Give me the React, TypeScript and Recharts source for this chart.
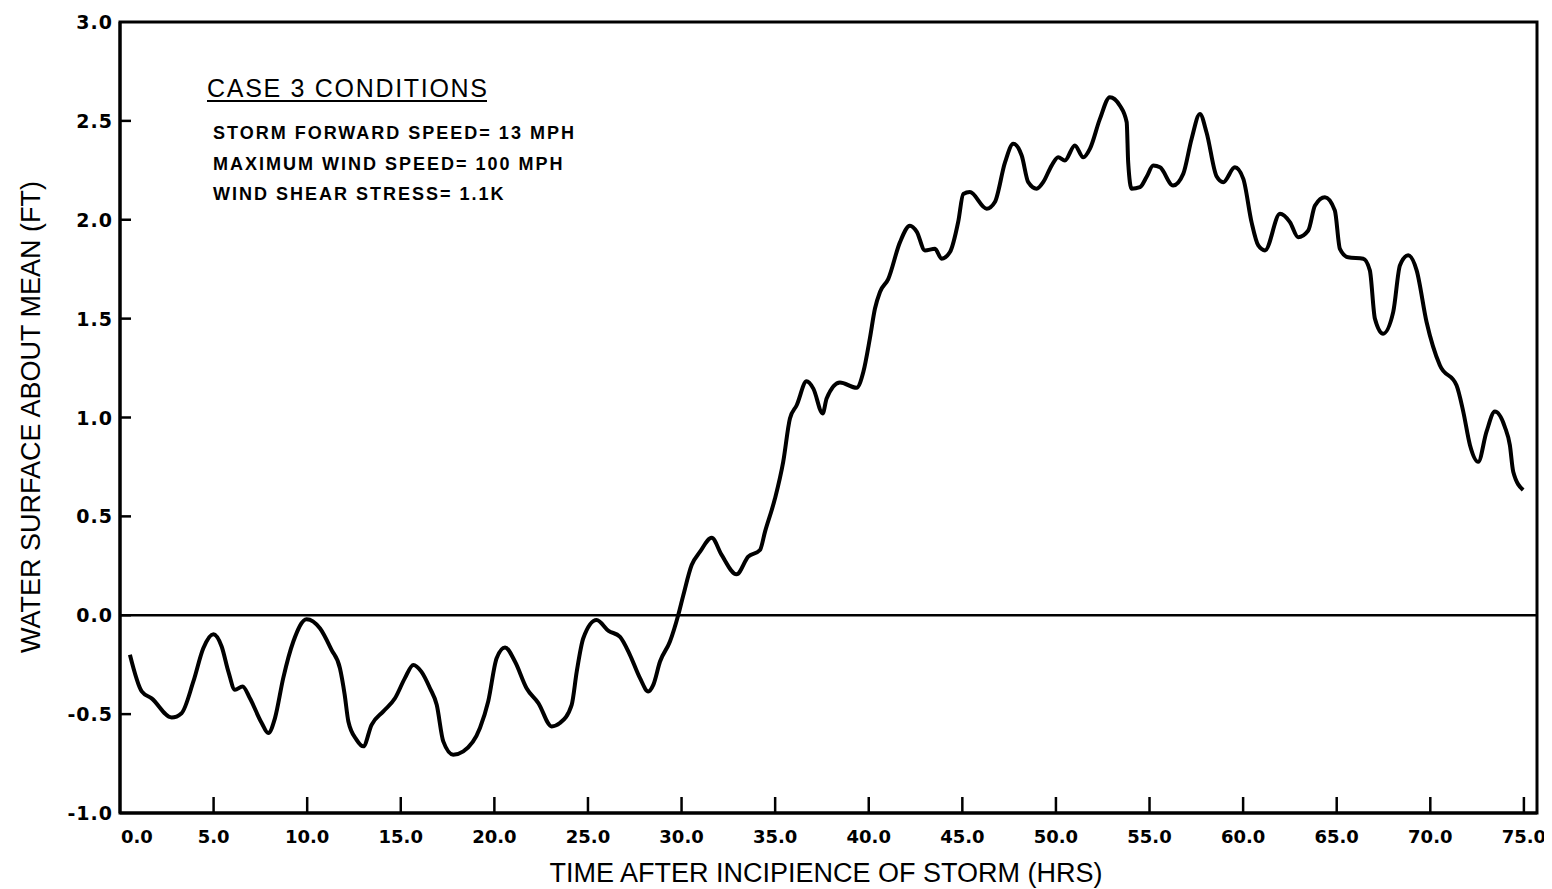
import React from "react";
import {
  LineChart,
  Line,
  XAxis,
  YAxis,
  ReferenceLine,
  ReferenceArea,
  Customized,
} from "recharts";

// Time after incipience of storm (hrs)
const hours = [
  0.53, 1.16, 1.69, 2.76, 3.29, 3.92, 4.45, 4.99, 5.43, 5.79, 6.14, 6.55, 6.94,
  7.57, 7.92, 8.28, 8.72, 9.26, 9.97, 10.68, 11.3, 11.75, 12.0, 12.2, 12.64,
  13.0, 13.44, 14.07, 14.69, 15.22, 15.67, 16.1, 16.56, 16.92, 17.27, 17.8,
  18.34, 19.23, 19.67, 20.12, 20.57, 21.1, 21.72, 22.35, 23.06, 23.5, 24.13,
  24.4, 24.75, 25.46, 26.1, 26.7, 27.24, 27.78, 28.22, 28.49, 28.85, 29.38,
  29.82, 30.09, 30.54, 30.98, 31.61, 32.14, 32.94, 33.56, 34.19, 34.46, 34.99,
  35.43, 35.79, 36.15, 36.68, 37.04, 37.54, 37.75, 38.46, 39.35, 39.71, 40.06,
  40.33, 40.6, 41.04, 41.67, 42.2, 42.56, 43.0, 43.54, 43.89, 44.34, 44.78,
  45.05, 45.4, 46.3, 46.74, 47.28, 47.72, 48.17, 48.52, 48.97, 49.32, 49.77,
  50.12, 50.48, 51.01, 51.46, 51.82, 52.35, 52.88, 53.42, 53.78, 53.86, 54.04,
  54.49, 54.84, 55.2, 55.56, 56.26, 56.8, 57.25, 57.69, 58.05, 58.58, 58.94,
  59.56, 60.01, 60.45, 60.81, 61.17, 61.97, 62.5, 62.94, 63.48, 63.84, 64.37,
  64.9, 65.17, 65.61, 66.42, 66.77, 67.04, 67.48, 68.02, 68.38, 68.82, 69.27,
  69.8, 70.51, 71.4, 71.76, 72.12, 72.56, 73.0, 73.45, 73.98, 74.25, 74.43,
  74.96,
];

// Water surface about mean (ft)
const surface = [
  -0.2, -0.385, -0.42, -0.517, -0.495, -0.335, -0.167, -0.096, -0.158, -0.285,
  -0.377, -0.36, -0.42, -0.545, -0.596, -0.52, -0.318, -0.133, -0.02, -0.066,
  -0.175, -0.268, -0.4, -0.537, -0.63, -0.663, -0.554, -0.486, -0.42, -0.318,
  -0.251, -0.285, -0.369, -0.453, -0.638, -0.705, -0.688, -0.57, -0.436, -0.217,
  -0.163, -0.234, -0.369, -0.444, -0.562, -0.545, -0.453, -0.285, -0.116,
  -0.024, -0.079, -0.108, -0.2, -0.318, -0.385, -0.352, -0.234, -0.133, 0.0,
  0.1, 0.254, 0.32, 0.392, 0.305, 0.207, 0.296, 0.33, 0.423, 0.59, 0.776, 0.995,
  1.062, 1.183, 1.146, 1.02, 1.096, 1.177, 1.15, 1.23, 1.4, 1.55, 1.635, 1.7,
  1.887, 1.97, 1.94, 1.845, 1.853, 1.803, 1.837, 1.99, 2.13, 2.14, 2.056, 2.09,
  2.29, 2.384, 2.325, 2.19, 2.157, 2.19, 2.274, 2.316, 2.3, 2.376, 2.316, 2.36,
  2.51, 2.62, 2.577, 2.493, 2.29, 2.157, 2.165, 2.216, 2.274, 2.265, 2.173,
  2.232, 2.41, 2.535, 2.44, 2.22, 2.19, 2.265, 2.207, 1.988, 1.87, 1.845, 2.03,
  1.988, 1.912, 1.946, 2.072, 2.114, 2.047, 1.853, 1.81, 1.803, 1.744, 1.5,
  1.424, 1.534, 1.77, 1.82, 1.744, 1.483, 1.264, 1.163, 1.03, 0.86, 0.776,
  0.927, 1.03, 0.953, 0.86, 0.726, 0.633,
];

const xTicks = [0, 5, 10, 15, 20, 25, 30, 35, 40, 45, 50, 55, 60, 65, 70, 75];
const yTicks = [-1, -0.5, 0, 0.5, 1, 1.5, 2, 2.5, 3];
const xDomain: [number, number] = [0, 75.7];
const yDomain: [number, number] = [-1, 3];

const xTitle = "TIME AFTER INCIPIENCE OF STORM (HRS)";
const yTitle = "WATER SURFACE ABOUT MEAN (FT)";
const caseTitle = "CASE  3 CONDITIONS";
const caseLines = [
  "STORM FORWARD SPEED= 13 MPH",
  "MAXIMUM WIND SPEED= 100 MPH",
  "WIND SHEAR STRESS= 1.1K",
];

const data = hours.map((h, i) => ({ t: h, v: surface[i] }));

const W = 1544;
const H = 880;
const TICK_GAP = 4;
const INK = "#000";
const TICK_FONT = "'DejaVu Sans', 'Liberation Sans', sans-serif";
const TITLE_FONT = "'Liberation Sans', Arial, sans-serif";

const XTick = (props: any) => {
  const { x, y, payload, index } = props;
  const axisY = y - TICK_GAP;
  const first = index === 0;
  return (
    <g>
      {!first && (
        <line x1={x} x2={x} y1={axisY} y2={axisY - 16} stroke={INK} strokeWidth={2.5} />
      )}
      <text
        x={first ? x + 1 : x}
        y={axisY + 30}
        textAnchor={first ? "start" : "middle"}
        fontFamily={TICK_FONT}
        fontWeight="bold"
        fontSize={18}
        fill={INK}
      >
        {Number(payload.value).toFixed(1)}
      </text>
    </g>
  );
};

const YTick = (props: any) => {
  const { x, y, payload } = props;
  const axisX = x + TICK_GAP;
  const v = Number(payload.value);
  const inside = v > yDomain[0] && v < yDomain[1];
  return (
    <g>
      {inside && (
        <line x1={axisX} x2={axisX + 11} y1={y} y2={y} stroke={INK} strokeWidth={2.5} />
      )}
      <text
        x={axisX - 7}
        y={y + 7}
        textAnchor="end"
        fontFamily={TICK_FONT}
        fontWeight="bold"
        fontSize={19}
        letterSpacing={1}
        fill={INK}
      >
        {v.toFixed(1)}
      </text>
    </g>
  );
};

const Annotations = () => (
  <g>
    <text
      x={23}
      y={409}
      transform="rotate(-90 23 409)"
      textAnchor="middle"
      dominantBaseline="central"
      fontFamily={TITLE_FONT}
      fontSize={27}
      fill={INK}
    >
      {yTitle}
    </text>
    <text
      x={818}
      y={874}
      textAnchor="middle"
      fontFamily={TITLE_FONT}
      fontSize={27}
      fill={INK}
    >
      {xTitle}
    </text>
    <text x={199} y={89} fontFamily={TITLE_FONT} fontSize={25} fill={INK} textLength={280}>
      {caseTitle}
    </text>
    <line x1={199} x2={479} y1={93} y2={93} stroke={INK} strokeWidth={2} />
    {caseLines.map((s, i) => (
      <text
        key={s}
        x={205}
        y={131 + i * 30.5}
        fontFamily={TITLE_FONT}
        fontWeight="bold"
        fontSize={18}
        letterSpacing={2}
        fill={INK}
      >
        {s}
      </text>
    ))}
  </g>
);

export default function App() {
  return (
    <div style={{ width: W, height: H, background: "#fff" }}>
      <LineChart
        width={W}
        height={H}
        data={data}
        margin={{ top: 14, right: 15, bottom: 0, left: 0 }}
      >
        <XAxis
          dataKey="t"
          type="number"
          domain={xDomain}
          ticks={xTicks}
          interval={0}
          allowDataOverflow
          height={75}
          tickSize={0}
          tickMargin={TICK_GAP}
          tickLine={false}
          axisLine={{ stroke: INK, strokeWidth: 3 }}
          tick={<XTick />}
        />
        <YAxis
          type="number"
          domain={yDomain}
          ticks={yTicks}
          interval={0}
          allowDataOverflow
          width={112}
          tickSize={0}
          tickMargin={TICK_GAP}
          tickLine={false}
          axisLine={{ stroke: INK, strokeWidth: 3 }}
          tick={<YTick />}
        />
        <ReferenceArea
          x1={xDomain[0]}
          x2={xDomain[1]}
          y1={yDomain[0]}
          y2={yDomain[1]}
          fill="none"
          fillOpacity={0}
          stroke={INK}
          strokeWidth={3}
          ifOverflow="visible"
        />
        <ReferenceLine y={0} stroke={INK} strokeWidth={2.5} />
        <Line
          type="monotone"
          dataKey="v"
          stroke={INK}
          strokeWidth={4}
          dot={false}
          activeDot={false}
          isAnimationActive={false}
        />
        <Customized component={<Annotations />} />
      </LineChart>
    </div>
  );
}
